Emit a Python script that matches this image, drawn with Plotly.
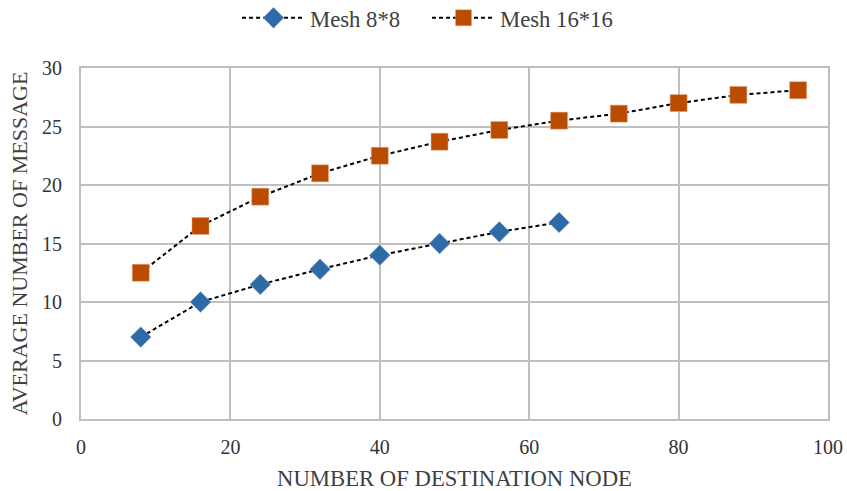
import plotly.graph_objects as go

x_8 = [8, 16, 24, 32, 40, 48, 56, 64]
y_8 = [7.0, 10.0, 11.5, 12.8, 14.0, 15.0, 16.0, 16.8]
x_16 = [8, 16, 24, 32, 40, 48, 56, 64, 72, 80, 88, 96]
y_16 = [12.5, 16.5, 19.0, 21.0, 22.5, 23.7, 24.7, 25.5, 26.1, 27.0, 27.7, 28.1]

fig = go.Figure()
fig.add_trace(go.Scatter(
    x=x_8, y=y_8, mode="lines+markers", name="Mesh 8*8", legend="legend",
    line=dict(color="black", width=2, dash="4px,3px"),
    marker=dict(symbol="diamond", size=16, color="#2E6BA6", line=dict(color="#9DB9D8", width=0.5)),
))
fig.add_trace(go.Scatter(
    x=x_16, y=y_16, mode="lines+markers", name="Mesh 16*16", legend="legend2",
    line=dict(color="black", width=2, dash="4px,3px"),
    marker=dict(symbol="square", size=17, color="#BB4B00", line=dict(color="#E0A880", width=0.5)),
))

font_family = "Liberation Serif, Times New Roman, serif"
legend_common = dict(orientation="h", xanchor="left", xref="container",
                     y=1 - 18 / 491, yanchor="middle", yref="container",
                     itemwidth=63, font=dict(size=22.7, color="#404040"),
                     bgcolor="rgba(0,0,0,0)")
fig.update_layout(
    width=847, height=491,
    margin=dict(l=81, r=19, t=68, b=72),
    paper_bgcolor="white", plot_bgcolor="white",
    font=dict(family=font_family, color="#333333", size=20),
    legend=dict(x=237 / 847, **legend_common),
    legend2=dict(x=427 / 847, **legend_common),
    showlegend=True,
)
fig.update_xaxes(
    range=[0, 100], tickvals=[0, 20, 40, 60, 80, 100], automargin=False,
    showgrid=True, gridcolor="#BFBFBF", gridwidth=2,
    showline=True, linecolor="#BFBFBF", linewidth=2, mirror=True,
    zeroline=False, ticks="", ticklabelstandoff=9,
    tickfont=dict(size=20, color="#333333"),
    title=dict(text="NUMBER OF DESTINATION NODE", font=dict(size=22.7, color="#404040"), standoff=19),
)
fig.update_yaxes(
    range=[0, 30], tickvals=[0, 5, 10, 15, 20, 25, 30], automargin=False,
    showgrid=True, gridcolor="#BFBFBF", gridwidth=2,
    showline=True, linecolor="#BFBFBF", linewidth=2, mirror=True,
    zeroline=False, ticks="", ticklabelstandoff=13,
    tickfont=dict(size=20, color="#333333"),
    title=dict(text="AVERAGE NUMBER OF MESSAGE", font=dict(size=22, color="#404040"), standoff=8),
)
fig.write_html(
    "out.html",
    config={"displayModeBar": False},
    post_script="document.body.style.margin='0';document.body.style.overflow='hidden';",
)
